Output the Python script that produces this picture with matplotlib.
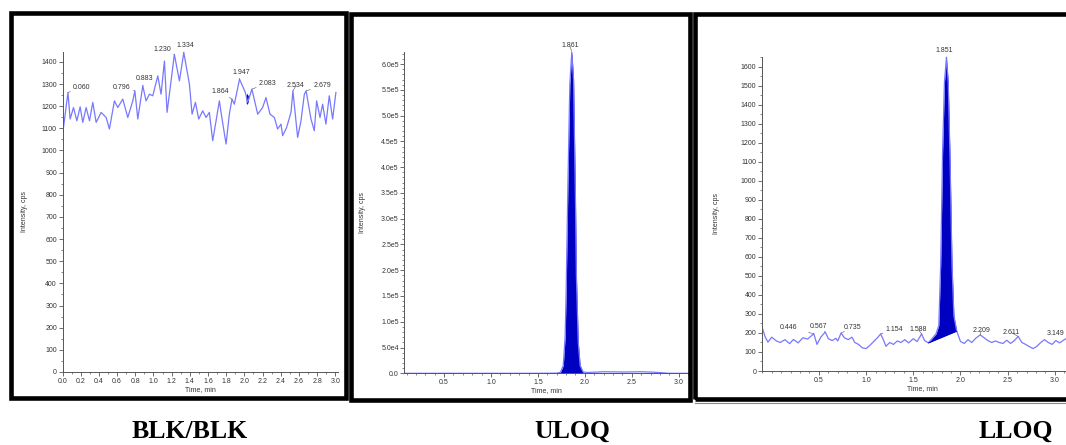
import matplotlib
matplotlib.use("Agg")
import matplotlib.pyplot as plt
from matplotlib.patches import Rectangle
from matplotlib.ticker import MultipleLocator, FixedLocator, FixedFormatter

# ---- data ----
# BLK/BLK : noise only
blk_time = [0.004, 0.060, 0.084, 0.121, 0.158, 0.194, 0.223, 0.260, 0.297, 0.333,
            0.370, 0.425, 0.480, 0.516, 0.571, 0.608, 0.663, 0.718, 0.773, 0.796,
            0.828, 0.883, 0.919, 0.956, 0.993, 1.048, 1.084, 1.121, 1.150, 1.194,
            1.230, 1.286, 1.334, 1.396, 1.425, 1.462, 1.498, 1.542, 1.579, 1.615,
            1.652, 1.689, 1.725, 1.755, 1.799, 1.835, 1.864, 1.890, 1.947, 2.011,
            2.037, 2.083, 2.147, 2.201, 2.238, 2.282, 2.330, 2.366, 2.403, 2.421,
            2.465, 2.513, 2.534, 2.586, 2.623, 2.660, 2.679, 2.733, 2.769, 2.795,
            2.832, 2.861, 2.897, 2.934, 2.971, 3.007]
blk_int = [1082, 1262, 1142, 1194, 1134, 1197, 1127, 1194, 1134, 1217,
           1127, 1172, 1149, 1097, 1224, 1194, 1232, 1149, 1224, 1269,
           1142, 1292, 1224, 1254, 1247, 1337, 1254, 1404, 1172, 1314,
           1434, 1314, 1442, 1299, 1164, 1217, 1142, 1179, 1149, 1172,
           1044, 1134, 1224, 1142, 1029, 1164, 1232, 1209, 1322, 1262,
           1217, 1277, 1164, 1194, 1239, 1164, 1149, 1097, 1119, 1067,
           1104, 1172, 1269, 1059, 1134, 1254, 1269, 1142, 1089, 1224,
           1149, 1209, 1119, 1247, 1142, 1262]
blk_peaks = [0.060, 0.796, 0.883, 1.230, 1.334, 1.864, 1.947, 2.083, 2.534, 2.679]
blk_peak_int = [1262, 1269, 1292, 1434, 1442, 1232, 1322, 1277, 1269, 1269]
blk_small_t = [2.020, 2.030, 2.045]
blk_small_top = [1250, 1258, 1245]
blk_small_bot = [1215, 1208, 1222]

# ULOQ : one large peak
uloq_time = [0.076, 0.50, 1.00, 1.50, 1.70, 1.74, 1.77, 1.79, 1.80, 1.82, 1.84,
             1.861, 1.88, 1.90, 1.91, 1.93, 1.95, 1.98, 2.02, 2.20, 2.40, 2.60,
             2.75, 2.90, 3.105]
uloq_int = [0, 0, 0, 0, 300, 2000, 15000, 70000, 150000, 370000, 560000,
            624000, 570000, 340000, 190000, 60000, 15000, 3000, 1500, 3000,
            2500, 3000, 2000, 0, 0]
uloq_peaks = [1.861]
uloq_peak_int = [624000]
uloq_yticks = [0, 50000, 100000, 150000, 200000, 250000, 300000, 350000,
               400000, 450000, 500000, 550000, 600000]
uloq_ylabels = ["0.0", "5.0e4", "1.0e5", "1.5e5", "2.0e5", "2.5e5", "3.0e5",
                "3.5e5", "4.0e5", "4.5e5", "5.0e5", "5.5e5", "6.0e5"]

# LLOQ : small peak above noise
lloq_time = [-0.10, -0.07, -0.04, 0.00, 0.05, 0.09, 0.14, 0.19, 0.23, 0.28,
             0.33, 0.38, 0.446, 0.48, 0.52, 0.567, 0.60, 0.64, 0.68, 0.70,
             0.735, 0.77, 0.81, 0.85, 0.88, 0.92, 0.96, 1.00, 1.04, 1.08,
             1.12, 1.154, 1.18, 1.21, 1.25, 1.29, 1.33, 1.37, 1.41, 1.45,
             1.50, 1.54, 1.588, 1.62, 1.66, 1.70, 1.74, 1.77, 1.79, 1.81,
             1.83, 1.851, 1.87, 1.89, 1.91, 1.93, 1.96, 2.00, 2.04, 2.08,
             2.12, 2.16, 2.209, 2.25, 2.29, 2.33, 2.37, 2.41, 2.45, 2.49,
             2.53, 2.57, 2.611, 2.65, 2.69, 2.73, 2.77, 2.81, 2.85, 2.89,
             2.93, 2.97, 3.01, 3.05, 3.10, 3.149, 3.19, 3.24]
lloq_int = [228, 180, 152, 178, 158, 150, 165, 144, 166, 148,
            175, 168, 196, 140, 178, 205, 170, 160, 172, 158,
            200, 175, 165, 178, 150, 140, 122, 118, 135, 155,
            175, 195, 168, 130, 150, 140, 158, 150, 165, 148,
            170, 155, 195, 160, 148, 172, 195, 240, 560, 1150,
            1520, 1650, 1520, 1100, 560, 290, 210, 155, 145, 165,
            150, 172, 190, 175, 160, 150, 158, 150, 145, 162,
            145, 160, 182, 150, 140, 128, 118, 130, 150, 165,
            150, 140, 160, 148, 165, 178, 160, 155]
lloq_peaks = [0.446, 0.567, 0.735, 1.154, 1.588, 1.851, 2.209, 2.611, 3.149]
lloq_peak_int = [196, 205, 200, 195, 195, 1650, 190, 182, 178]
lloq_base_t = [1.66, 1.96]
lloq_base_v = [148, 210]

captions = ["BLK/BLK", "ULOQ", "LLOQ"]

# ---- style ----
W, H = 1066, 445
TRACE = "#7878ff"
FILL = "#0000c0"
AX_C = "#555555"
TXT = "#333333"
SANS = ["Liberation Sans Narrow", "Liberation Sans", "DejaVu Sans"]
plt.rcParams["font.family"] = SANS

fig = plt.figure(figsize=(W / 100, H / 100), dpi=100)


def px_axes(left, top, right, bottom):
    return fig.add_axes([left / W, 1 - bottom / H, (right - left) / W, (bottom - top) / H])


def frame(x0, y0, x1, y1, lw=3.3):
    fig.patches.append(Rectangle((x0 / W, 1 - y1 / H), (x1 - x0) / W, (y1 - y0) / H,
                                 transform=fig.transFigure, fill=False,
                                 edgecolor="black", linewidth=lw, zorder=5))


def style(ax):
    for s in ("top", "right"):
        ax.spines[s].set_visible(False)
    for s in ("left", "bottom"):
        ax.spines[s].set_color(AX_C)
        ax.spines[s].set_linewidth(0.7)
    ax.tick_params(which="major", direction="out", length=3, width=0.6,
                   color=AX_C, labelsize=5, labelcolor=TXT, pad=1)
    ax.tick_params(which="minor", direction="out", length=1.5, width=0.5, color=AX_C)
    ax.set_xlabel("Time, min", fontsize=5, color=TXT, labelpad=1)
    ax.set_ylabel("Intensity, cps", fontsize=5, color=TXT)


def label_peaks(ax, times, heights, offsets):
    for t, v, (dx, dy) in zip(times, heights, offsets):
        ax.annotate(f"{t:.3f}", xy=(t, v), xytext=(dx, dy), textcoords="offset pixels",
                    ha="center", va="center", fontsize=5, color=TXT,
                    arrowprops=dict(arrowstyle="-", lw=0.4, color=AX_C,
                                    shrinkA=6, shrinkB=0))


# panel frames
frame(10.5, 13, 345.5, 397.5)
frame(351, 13.5, 690, 399.5)
frame(695, 13.5, 1075, 399)
fig.add_artist(plt.Line2D([695 / W, 1], [1 - 402.5 / H] * 2, color="#888888", lw=0.8))

# ---- BLK/BLK ----
ax1 = px_axes(62.5, 51.7, 338, 372)
ax1.plot(blk_time, blk_int, color=TRACE, lw=0.9)
ax1.fill_between(blk_small_t, blk_small_bot, blk_small_top, color=FILL, lw=0)
ax1.set_xlim(0.0, 3.03)
ax1.set_ylim(0, 1446)
ax1.xaxis.set_major_locator(MultipleLocator(0.2))
ax1.xaxis.set_minor_locator(MultipleLocator(0.1))
ax1.xaxis.set_major_formatter(plt.FormatStrFormatter("%.1f"))
ax1.yaxis.set_major_locator(MultipleLocator(100))
ax1.yaxis.set_minor_locator(MultipleLocator(50))
style(ax1)
ax1.yaxis.set_label_coords(-0.125, 0.5)
label_peaks(ax1, blk_peaks, blk_peak_int,
            [(14, 5), (-13, 3), (2, 7), (-12, 5), (2, 7),
             (-12, 8), (2, 7), (16, 6), (3, 5), (16, 5)])

# ---- ULOQ ----
ax2 = px_axes(404.3, 51.7, 688.5, 373.3)
ax2.plot(uloq_time, uloq_int, color=TRACE, lw=0.9)
ax2.fill_between(uloq_time, uloq_int, where=[1.72 <= t <= 1.99 for t in uloq_time],
                 color=FILL, lw=0)
ax2.set_xlim(0.076, 3.105)
ax2.set_ylim(0, 624000)
ax2.xaxis.set_major_locator(MultipleLocator(0.5))
ax2.xaxis.set_minor_locator(MultipleLocator(0.1))
ax2.xaxis.set_major_formatter(plt.FormatStrFormatter("%.1f"))
ax2.yaxis.set_major_locator(FixedLocator(uloq_yticks))
ax2.yaxis.set_major_formatter(FixedFormatter(uloq_ylabels))
ax2.yaxis.set_minor_locator(MultipleLocator(10000))
style(ax2)
ax2.yaxis.set_label_coords(-0.135, 0.5)
label_peaks(ax2, uloq_peaks, uloq_peak_int, [(-2, 6)])

# ---- LLOQ ----
ax3 = px_axes(761.7, 56.7, 1080, 371)
ax3.plot(lloq_time, lloq_int, color=TRACE, lw=0.9)
pk = [(t, v) for t, v in zip(lloq_time, lloq_int) if lloq_base_t[0] <= t <= lloq_base_t[1]]
pk_t = [lloq_base_t[0]] + [p[0] for p in pk] + [lloq_base_t[1]]
pk_v = [lloq_base_v[0]] + [p[1] for p in pk] + [lloq_base_v[1]]
base = [lloq_base_v[0] + (t - lloq_base_t[0]) * (lloq_base_v[1] - lloq_base_v[0])
        / (lloq_base_t[1] - lloq_base_t[0]) for t in pk_t]
ax3.fill_between(pk_t, base, pk_v, color=FILL, lw=0)
ax3.plot(lloq_base_t, lloq_base_v, color=FILL, lw=0.6)
ax3.set_xlim(-0.106, 3.266)
ax3.set_ylim(0, 1654)
ax3.xaxis.set_major_locator(FixedLocator([0.5, 1.0, 1.5, 2.0, 2.5, 3.0]))
ax3.xaxis.set_minor_locator(MultipleLocator(0.1))
ax3.xaxis.set_major_formatter(plt.FormatStrFormatter("%.1f"))
ax3.yaxis.set_major_locator(MultipleLocator(100))
ax3.yaxis.set_minor_locator(MultipleLocator(50))
style(ax3)
ax3.xaxis.set_label_coords((922 - 761.7) / (1080 - 761.7), -0.045)
ax3.yaxis.set_label_coords(-0.13, 0.5)
label_peaks(ax3, lloq_peaks, lloq_peak_int,
            [(-25, 6), (-7, 6), (11, 5), (14, 4), (-3, 4), (-2, 7), (1, 4), (-7, 4), (-13, 4)])

# captions
for cap, cx in zip(captions, [190, 572, 1016]):
    fig.text(cx / W, 1 - 431 / H, cap, ha="center", va="center", fontsize=18.5,
             fontweight="bold", family=["Liberation Serif", "DejaVu Serif"], color="black")

fig.savefig("out.png", dpi=100)
